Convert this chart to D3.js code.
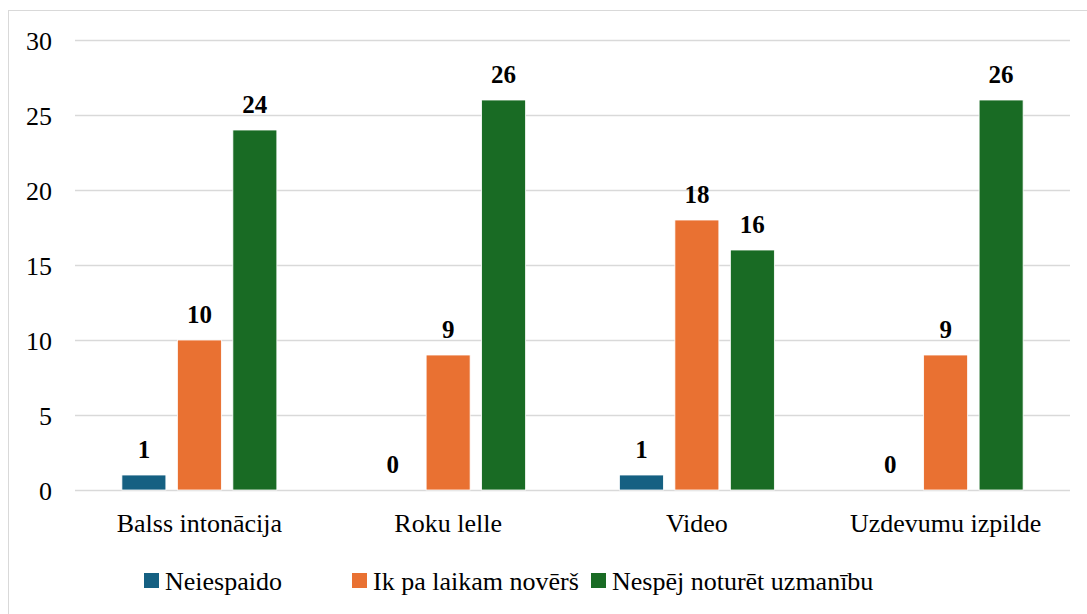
<!DOCTYPE html>
<html>
<head>
<meta charset="utf-8">
<script src="https://cdn.jsdelivr.net/npm/d3@7"></script>
<style>
  body { margin: 0; background: #fff; }
</style>
</head>
<body>
<div id="divChart"></div>
<script>
var categories = ["Balss intonācija", "Roku lelle", "Video", "Uzdevumu izpilde"];
var seriesNames = ["Neiespaido", "Ik pa laikam novērš", "Nespēj noturēt uzmanību"];
var neiespaido = [1, 0, 1, 0];
var ikPaLaikam = [10, 9, 18, 9];
var nespej = [24, 26, 16, 26];
var yTicks = [0, 5, 10, 15, 20, 25, 30];
var colors = ["#156082", "#E97132", "#196B24"];

function init()
{
    var width = 1087, height = 614;
    var font = "'Times New Roman', 'Liberation Serif', 'Liberation Sans', sans-serif";
    var values = [neiespaido, ikPaLaikam, nespej];

    var svg = d3.select("#divChart").append("svg")
        .attr("width", width)
        .attr("height", height)
        .attr("font-family", font);

    // chart border
    svg.append("rect")
        .attr("x", 8.5).attr("y", 10.5)
        .attr("width", width + 10).attr("height", height + 10)
        .attr("fill", "none")
        .attr("stroke", "#D9D9D9");

    var x0 = d3.scaleBand().domain(categories).range([75, 1070]);
    var x1 = d3.scaleBand().domain(seriesNames)
        .range([0, x0.bandwidth()])
        .paddingInner(0.207).paddingOuter(0.845);
    var y = d3.scaleLinear().domain([0, 30]).range([490, 40]);

    // grid lines
    svg.append("g").selectAll("line")
        .data(yTicks).enter().append("line")
        .attr("x1", 75).attr("x2", 1070)
        .attr("y1", function(d){ return y(d) + 0.5; })
        .attr("y2", function(d){ return y(d) + 0.5; })
        .attr("stroke", "#D9D9D9")
        .attr("stroke-width", 1.3);

    // y axis labels
    var yAxis = d3.axisLeft(y).tickValues(yTicks).tickSize(0).tickPadding(0);
    var gy = svg.append("g").attr("transform", "translate(52,0)").call(yAxis);
    gy.attr("font-family", font);
    gy.select(".domain").remove();
    gy.selectAll("text")
        .attr("font-size", 26)
        .attr("dy", "0.35em")
        .attr("fill", "#000");

    // x axis labels
    var xAxis = d3.axisBottom(x0).tickSize(0).tickPadding(0);
    var gx = svg.append("g").attr("transform", "translate(0,514)").call(xAxis);
    gx.attr("font-family", font);
    gx.select(".domain").remove();
    gx.selectAll("text")
        .attr("font-size", 26)
        .attr("dy", "0.71em")
        .attr("fill", "#000");

    // bars
    var flat = [];
    categories.forEach(function(c, i) {
        seriesNames.forEach(function(s, j) {
            flat.push({cat: c, ser: s, idx: j, v: values[j][i]});
        });
    });

    svg.append("g").selectAll("rect")
        .data(flat).enter().append("rect")
        .attr("x", function(d){ return x0(d.cat) + x1(d.ser); })
        .attr("y", function(d){ return y(d.v); })
        .attr("width", x1.bandwidth())
        .attr("height", function(d){ return y(0) - y(d.v); })
        .attr("fill", function(d){ return colors[d.idx]; })
        .attr("stroke", "#fff")
        .attr("stroke-width", 0.8);

    // data labels
    svg.append("g").selectAll("text")
        .data(flat).enter().append("text")
        .attr("x", function(d){ return x0(d.cat) + x1(d.ser) + x1.bandwidth() / 2; })
        .attr("y", function(d){ return y(d.v) - 17; })
        .attr("text-anchor", "middle")
        .attr("font-size", 25)
        .attr("font-weight", "bold")
        .text(function(d){ return d.v; });

    // legend
    var legendX = [144, 352, 591];
    var lg = svg.append("g").selectAll("g")
        .data(seriesNames).enter().append("g")
        .attr("transform", function(d, i){ return "translate(" + legendX[i] + ",573)"; });
    lg.append("rect")
        .attr("width", 15).attr("height", 15)
        .attr("fill", function(d, i){ return colors[i]; });
    lg.append("text")
        .attr("x", 21).attr("y", 17)
        .attr("font-size", 26)
        .text(function(d){ return d; });
}

window.onload = init;
</script>
</body>
</html>
